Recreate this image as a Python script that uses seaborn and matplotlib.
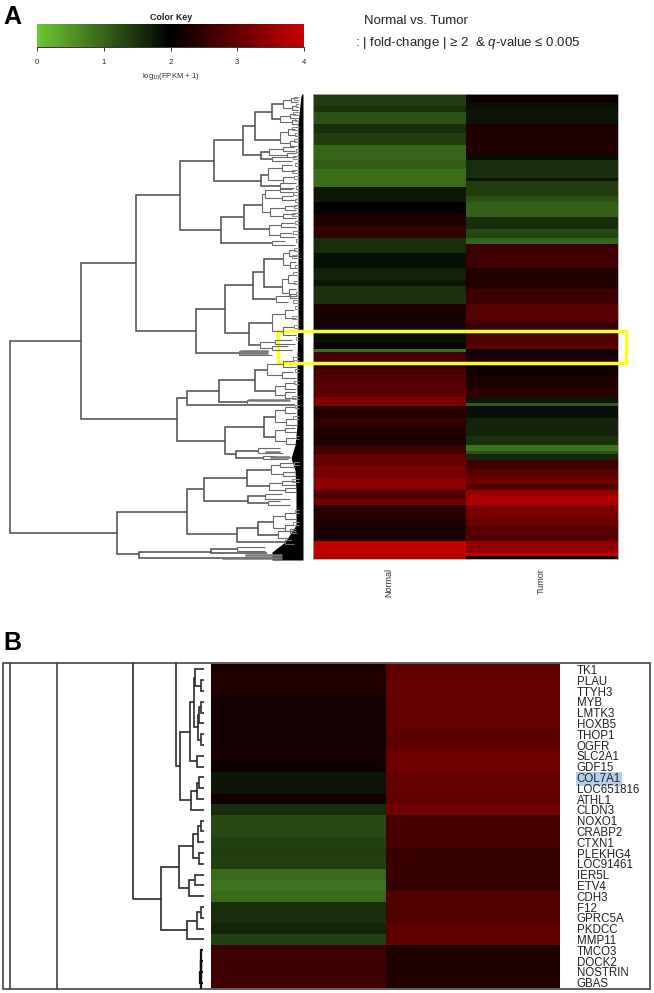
import numpy as np
import pandas as pd
import matplotlib
matplotlib.use("Agg")
import matplotlib.pyplot as plt
from matplotlib.colors import LinearSegmentedColormap
from matplotlib.patches import Rectangle
import seaborn as sns

sns.set_theme(style="white")
plt.rcParams["font.family"] = ["Liberation Sans", "DejaVu Sans"]
plt.rcParams["mathtext.fontset"] = "custom"
plt.rcParams["mathtext.rm"] = "Liberation Sans"
plt.rcParams["mathtext.it"] = "Liberation Sans:italic"

W, H = 654, 993

# panel A: log10(FPKM+1) per band, and how many genes are in each band
normal_levels = [1.40, 1.50, 1.20, 1.55, 1.40, 1.00, 1.10, 0.92, 1.75, 2.05, 2.30, 2.50, 1.55, 1.85,
                 1.65, 1.80, 1.50, 2.30, 2.20, 1.85, 2.10, 0.90, 2.70, 2.50, 2.80, 2.90, 3.25, 2.35,
                 2.50, 2.35, 2.25, 2.60, 3.00, 3.20, 3.45, 2.80, 3.10, 2.40, 2.25, 3.90, 3.75]
normal_counts = [4, 2, 4, 3, 4, 5, 3, 6, 5, 4, 4, 4, 5, 5,
                 4, 2, 6, 3, 5, 5, 2, 1, 3, 3, 4, 5, 3, 4,
                 3, 3, 3, 3, 4, 4, 4, 3, 2, 5, 7, 4, 2]
tumor_levels = [2.15, 1.85, 1.80, 2.30, 2.35, 1.90, 1.55, 1.80, 1.40, 1.20, 1.05, 1.55, 1.30, 1.00,
                2.60, 2.35, 2.60, 2.85, 2.55, 2.50, 2.75, 3.00, 2.20, 2.35, 2.15, 2.30, 2.45, 1.80,
                1.10, 1.85, 1.65, 1.50, 0.85, 1.20, 1.60, 2.60, 2.90, 3.10, 2.80, 3.50, 3.70, 3.20,
                3.05, 2.85, 3.45, 4.00, 2.15]
tumor_counts = [3, 2, 5, 6, 4, 2, 6, 1, 5, 2, 5, 4, 3, 2,
                8, 7, 5, 6, 2, 1, 5, 1, 3, 2, 4, 4, 3, 2,
                1, 4, 6, 3, 2, 1, 2, 3, 3, 2, 2, 2, 3, 4,
                3, 5, 4, 1, 1]

# panel B: the zoomed genes
genes = ["TK1", "PLAU", "TTYH3", "MYB", "LMTK3", "HOXB5", "THOP1", "OGFR", "SLC2A1", "GDF15",
         "COL7A1", "LOC651816", "ATHL1", "CLDN3", "NOXO1", "CRABP2", "CTXN1", "PLEKHG4", "LOC91461",
         "IER5L", "ETV4", "CDH3", "F12", "GPRC5A", "PKDCC", "MMP11", "TMCO3", "DOCK2", "NOSTRIN", "GBAS"]
gene_normal = [2.28, 2.35, 2.35, 2.20, 2.18, 2.18, 2.18, 2.20, 2.28, 2.15,
               1.78, 1.80, 2.18, 1.55, 1.25, 1.25, 1.35, 1.38, 1.35,
               0.95, 0.85, 0.95, 1.55, 1.55, 1.65, 1.35, 2.62, 2.62, 2.62, 2.62]
gene_tumor = [2.95, 3.00, 3.00, 3.00, 3.00, 3.00, 2.95, 2.95, 3.10, 3.10,
              3.00, 3.00, 2.95, 3.15, 2.70, 2.70, 2.70, 2.55, 2.55,
              2.55, 2.55, 2.80, 2.80, 2.80, 2.95, 2.95, 2.30, 2.30, 2.30, 2.30]

# panel A dendrogram, read in page pixels: merge x, child y top/bottom, child end x top/bottom
dendro_main = [
    (10, 341, 533, 81, 117), (81, 263, 419, 136, 177), (117, 512, 554, 187, 139),
    (136, 195, 331, 180, 196), (177, 398, 441, 187, 225), (180, 161, 230, 214, 221),
    (196, 309, 353, 225, 239), (214, 140, 181, 243, 261), (243, 126, 155, 255, 261),
    (255, 112, 140, 272, 280), (272, 104, 119, 283, 280), (261, 152, 159, 269, 272),
    (261, 175, 186, 268, 280), (221, 217, 243, 244, 272), (244, 205, 229, 262, 269),
    (225, 285, 333, 253, 249), (253, 272, 299, 264, 276), (264, 259, 287, 283, 282),
    (249, 323, 345, 272, 260), (187, 391, 405, 219, 295), (219, 380, 402, 255, 247),
    (255, 370, 391, 267, 275), (225, 427, 454, 264, 236), (264, 417, 437, 275, 275),
    (236, 451, 458, 258, 263), (187, 489, 534, 204, 237), (204, 478, 501, 247, 248),
    (247, 470, 486, 271, 269), (248, 496, 503, 265, 268), (237, 528, 542, 258, 285),
    (258, 522, 535, 273, 278), (139, 552, 558, 211, 282), (211, 549, 553, 237, 267),
]
dendro_twigs = [
    (283, 100, 108, 291, 292), (291, 98, 102, 297, 298), (292, 106, 110, 297, 298),
    (280, 116, 122, 290, 292), (290, 114, 118, 296, 297), (292, 120, 124, 297, 298),
    (280, 132, 143, 288, 290), (288, 129, 135, 295, 296), (290, 141, 146, 296, 297),
    (269, 149, 155, 283, 287), (283, 147, 151, 294, 295), (287, 153, 157, 296, 296),
    (272, 157, 161, 288, 292), (268, 168, 180, 282, 283), (282, 165, 171, 292, 295),
    (283, 177, 183, 294, 296), (280, 183, 189, 288, 292), (262, 194, 212, 265, 270),
    (265, 190, 198, 280, 282), (280, 188, 192, 294, 295), (282, 196, 200, 293, 296),
    (270, 208, 216, 285, 283), (285, 206, 210, 296, 296), (283, 214, 218, 295, 296),
    (269, 225, 235, 281, 280), (281, 223, 227, 294, 296), (280, 233, 237, 292, 295),
    (272, 241, 245, 285, 295), (283, 253, 265, 289, 290), (289, 250, 256, 296, 297),
    (290, 262, 268, 296, 297), (282, 279, 293, 288, 289), (288, 275, 283, 296, 296),
    (289, 289, 296, 296, 297), (276, 296, 302, 290, 288), (290, 294, 298, 296, 297),
    (272, 314, 331, 285, 283), (285, 310, 318, 294, 296), (283, 327, 335, 294, 296),
    (260, 342, 348, 275, 272), (275, 340, 344, 292, 295), (272, 346, 350, 288, 292),
    (239, 351, 355, 268, 272), (267, 364, 375, 283, 282), (283, 361, 367, 294, 296),
    (282, 372, 378, 293, 296), (275, 386, 395, 285, 285), (285, 383, 389, 295, 296),
    (285, 392, 398, 295, 296), (247, 400, 404, 263, 280), (275, 410, 422, 285, 286),
    (285, 407, 413, 296, 296), (286, 419, 425, 296, 297), (275, 430, 441, 285, 286),
    (285, 428, 432, 295, 296), (286, 438, 444, 295, 296), (258, 448, 453, 280, 283),
    (263, 456, 459, 275, 288), (271, 465, 474, 280, 283), (280, 463, 467, 293, 295),
    (283, 472, 476, 295, 296), (269, 483, 490, 282, 285), (282, 481, 485, 295, 296),
    (285, 488, 492, 296, 296), (265, 494, 499, 282, 290), (268, 501, 505, 280, 290),
    (273, 516, 528, 285, 285), (285, 513, 519, 295, 296), (285, 525, 531, 295, 296),
    (278, 531, 538, 290, 288), (290, 529, 533, 296, 297), (285, 540, 544, 292, 294),
    (237, 547, 551, 265, 265),
]
# closest leaf pairs: merge x and the two leaf rows, tips run into the black wedge
leaf_x = [294, 296, 293, 295, 292, 295, 294, 296, 293, 295, 292, 294, 296, 293, 295, 294,
          292, 295, 293, 296, 294, 292, 295, 293, 294, 296, 293, 295, 292, 294, 296, 293,
          295, 294, 292, 295, 293, 296, 294, 292, 295, 293]
leaf_top = [97, 104, 112, 118, 127, 133, 139, 149, 156, 163, 170, 176, 186, 192, 199, 205,
            213, 221, 231, 239, 248, 255, 265, 272, 281, 292, 300, 306, 316, 325, 337, 357,
            369, 381, 396, 405, 416, 436, 462, 479, 510, 522]
leaf_bottom = [100, 107, 115, 121, 130, 136, 142, 152, 159, 166, 173, 179, 189, 195, 202, 208,
               216, 224, 234, 242, 251, 258, 268, 275, 284, 295, 303, 309, 319, 328, 340, 360,
               372, 384, 399, 408, 419, 439, 465, 482, 513, 525]

# thick grey runs where the leaves are too close to separate
dense_x0 = [270, 265, 222, 245, 239, 240, 248]
dense_x1 = [290, 280, 282, 282, 268, 268, 290]
dense_y = [457, 452, 558, 555, 353, 351, 400]

# left edge of the black leaf wedge
wedge_y = [94, 96, 123, 190, 257, 323, 358, 425, 445, 458, 470, 492, 525, 542, 552, 560]
wedge_left = [302, 301, 298, 298, 298, 298, 297, 297, 295, 291, 295, 296, 296, 285, 272, 272]

# panel B dendrogram as a tree: (merge x, top child, bottom child), ints are rows
tree_upper = (180,
              (190,
               (194,
                (195, 0, (201, 1, 2)),
                (198, (199, (201, 3, 4), 5), (201, 6, 7))),
               (197, 8, 9)),
              (191, (197, (199, 10, 11), 12), 13))
tree_lower = (161,
              (179,
               (193, (198, (201, 14, 15), 16), (199, 17, 18)),
               (189, (195, 19, 20), 21)),
              (187, (197, (201, 22, 23), 24), 25))
tree_bottom = (201, 26, (201, 27, (200, 28, 29)))
full_height_x = [10, 57]

key_ticks = [0, 1, 2, 3, 4]
key_colors = ["#6CC832", "#000000", "#C80000"]


def px_axes(fig, x0, y0, x1, y1):
    return fig.add_axes([x0 / W, 1 - y1 / H, (x1 - x0) / W, (y1 - y0) / H])


def draw_links(ax, links, color, lw):
    for x, y0, y1, end0, end1 in links:
        ax.plot([end0, x, x, end1], [y0, y0, y1, y1], color=color, lw=lw,
                solid_joinstyle="miter", solid_capstyle="butt")


def draw_tree(ax, node, top, row_h, tip_x, color, lw):
    # returns (x, y) of the node so the parent can connect to it
    if isinstance(node, int):
        return tip_x, top + row_h * (node + 0.5)
    x, first, second = node
    x0, y0 = draw_tree(ax, first, top, row_h, tip_x, color, lw)
    x1, y1 = draw_tree(ax, second, top, row_h, tip_x, color, lw)
    ax.plot([x0, x, x, x1], [y0, y0, y1, y1], color=color, lw=lw,
            solid_joinstyle="miter", solid_capstyle="butt")
    return x, (y0 + y1) / 2


def main():
    cmap = LinearSegmentedColormap.from_list("green_black_red", key_colors)
    fig = plt.figure(figsize=(W / 100, H / 100), dpi=100, facecolor="white")

    # panel A heatmap, with the colour key as its colour bar
    df_a = pd.DataFrame({"Normal": np.repeat(normal_levels, normal_counts),
                         "Tumor": np.repeat(tumor_levels, tumor_counts)})
    ax_a = px_axes(fig, 313, 94, 618, 559)
    key_ax = px_axes(fig, 37, 24, 304, 47)
    sns.heatmap(df_a, ax=ax_a, cmap=cmap, vmin=0, vmax=4, yticklabels=False,
                cbar_ax=key_ax, cbar_kws={"orientation": "horizontal", "ticks": key_ticks})
    ax_a.set_xticklabels(["Normal", "Tumor"], rotation=90, fontsize=6.5, color="#333333", va="top")
    ax_a.tick_params(axis="x", length=0, pad=6.5)
    for spine in ax_a.spines.values():
        spine.set_visible(True)
        spine.set_color("#aaaaaa")
        spine.set_linewidth(0.6)

    key_ax.tick_params(axis="x", bottom=True, length=3, width=0.7, color="#333333",
                       labelsize=5.5, pad=6, labelcolor="#222222")
    key_ax.spines["bottom"].set_visible(True)
    key_ax.spines["bottom"].set_color("#333333")
    key_ax.spines["bottom"].set_linewidth(0.7)
    key_ax.set_xlabel(r"log$_{10}$(FPKM + 1)", fontsize=5.6, labelpad=3, color="#333333")

    # panel B heatmap, gene names on the right
    df_b = pd.DataFrame({"Normal": gene_normal, "Tumor": gene_tumor}, index=genes)
    ax_b = px_axes(fig, 211, 664, 560, 988)
    sns.heatmap(df_b, ax=ax_b, cmap=cmap, vmin=0, vmax=4, cbar=False, xticklabels=False, yticklabels=True)
    ax_b.yaxis.tick_right()
    ax_b.tick_params(axis="y", length=0, pad=12, labelsize=8.3, labelrotation=0, labelcolor="#222222")
    for label in ax_b.get_yticklabels():
        if label.get_text() == "COL7A1":
            label.set_bbox(dict(facecolor="#B4CFEA", edgecolor="none", pad=0.6))

    # everything else sits on one transparent axes in page pixels
    page = fig.add_axes([0, 0, 1, 1], zorder=5)
    page.set_xlim(0, W)
    page.set_ylim(H, 0)
    page.axis("off")

    page.fill_betweenx(wedge_y, wedge_left, 303, color="black", lw=0)
    draw_links(page, dendro_main, "#4a4a4a", 1.1)
    draw_links(page, dendro_twigs, "#6a6a6a", 0.8)
    for x, y0, y1 in zip(leaf_x, leaf_top, leaf_bottom):
        page.plot([299, x, x, 299], [y0, y0, y1, y1], color="#8a8a8a", lw=0.7, solid_capstyle="butt")
    for x0, x1, y in zip(dense_x0, dense_x1, dense_y):
        page.plot([x0, x1], [y, y], color="#777777", lw=1.8, solid_capstyle="butt")

    page.add_patch(Rectangle((278, 331), 348, 32, fill=False, edgecolor="#FFFF1E", lw=2.5))

    page.add_patch(Rectangle((3, 663), 647, 326, fill=False, edgecolor="#444444", lw=1.2))
    row_h = 324 / len(genes)
    for x in full_height_x:
        page.plot([x, x], [663, 989], color="#444444", lw=1.2)
    x_up, y_up = draw_tree(page, tree_upper, 664, row_h, 204, "#2a2a2a", 1.2)
    x_low, y_low = draw_tree(page, tree_lower, 664, row_h, 204, "#2a2a2a", 1.2)
    x_bot, y_bot = draw_tree(page, tree_bottom, 664, row_h, 203, "#111111", 1.6)
    page.plot([176, 176, x_up], [663, y_up, y_up], color="#2a2a2a", lw=1.2)
    page.plot([133, 133, x_low], [663, y_low, y_low], color="#2a2a2a", lw=1.2)
    page.plot([x_bot, x_bot], [y_bot, 988], color="#111111", lw=1.6)

    page.text(3, 24, "A", fontsize=18, fontweight="bold", color="black", ha="left", va="baseline")
    page.text(3, 650, "B", fontsize=18, fontweight="bold", color="black", ha="left", va="baseline")
    page.text(171, 17, "Color Key", fontsize=6.4, fontweight="bold", color="#222222", ha="center", va="center")
    page.text(364, 21, "Normal vs. Tumor", fontsize=9.5, color="#222222", ha="left", va="center")
    page.text(355, 43, ": | fold-change | \u2265 2  & $q$-value \u2264 0.005", fontsize=9.5,
              color="#222222", ha="left", va="center")

    fig.savefig("out.png", dpi=100)
    plt.close(fig)


if __name__ == "__main__":
    main()
